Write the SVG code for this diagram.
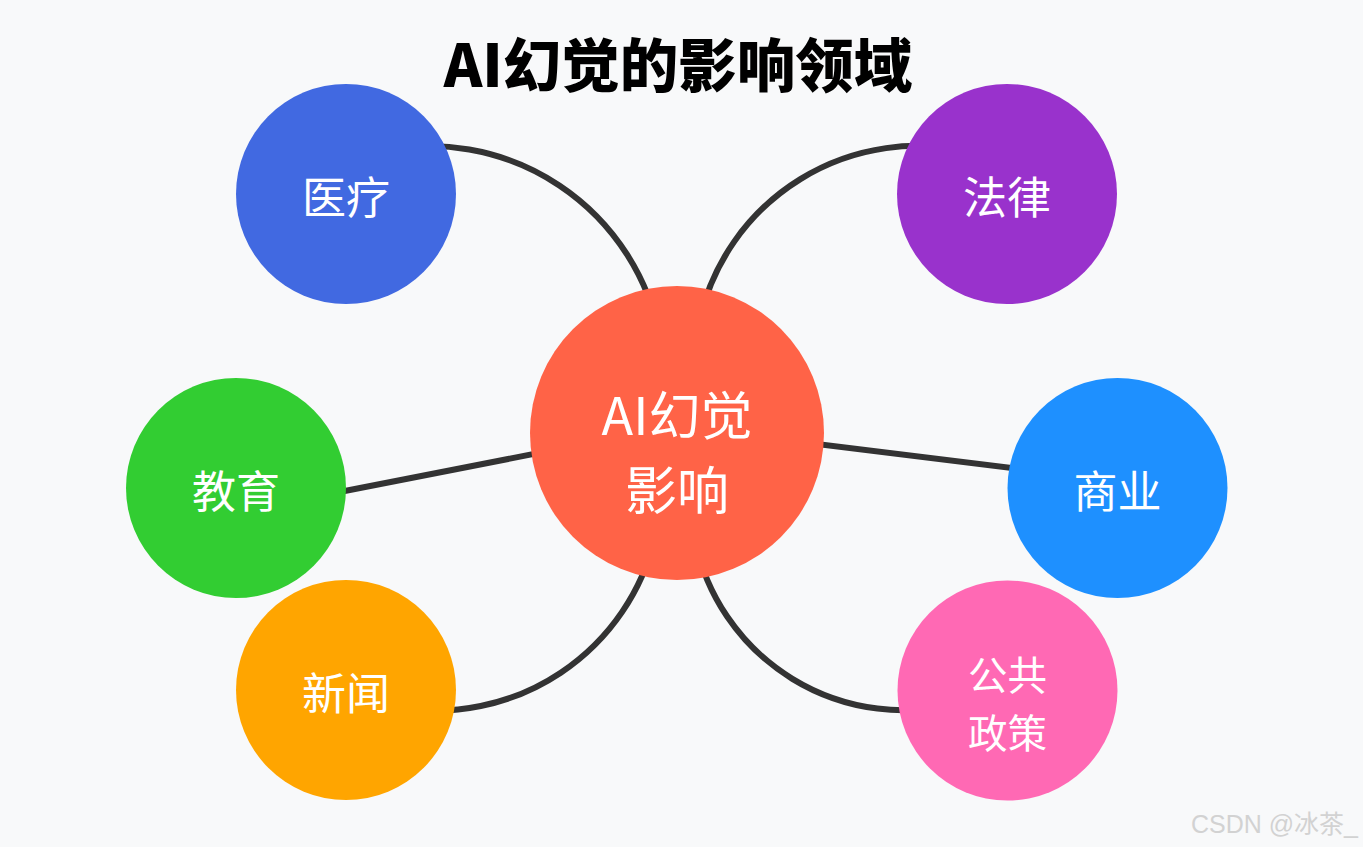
<svg xmlns="http://www.w3.org/2000/svg" width="1363" height="847" viewBox="0 0 1363 847">
<style>
.lbl{font-family:"Noto Sans CJK SC","Noto Sans",sans-serif;fill:#fff;text-anchor:middle}
.con{fill:none;stroke:#333;stroke-width:6}
</style>
<rect width="1363" height="847" fill="#f8f9fa"/>
<text x="678" y="87" text-anchor="middle" font-family="'Noto Sans CJK SC',sans-serif" font-weight="900" font-size="58.5" fill="#000">AI幻觉的影响领域</text>
<g id="connectors">
<path class="con" d="M 380 151.2 A 235 235 0 0 1 660 337.8"/>
<path class="con" d="M 970 152.1 A 223.5 223.5 0 0 0 700 318.4"/>
<path class="con" d="M 400 707.9 A 226 226 0 0 0 655 537.7"/>
<path class="con" d="M 960 702.5 A 212.9 212.9 0 0 1 695 540.3"/>
<path class="con" d="M 300 499.8 L 600 440.9"/>
<path class="con" d="M 760 437 L 1060 473.8"/>
</g>
<g id="center"><circle cx="677" cy="433" r="147" fill="#FF6347"/>
<text class="lbl" font-size="52"><tspan x="677" y="435">AI幻觉</tspan><tspan x="677" y="510">影响</tspan></text></g>
<g id="yiliao"><circle cx="346" cy="194" r="110" fill="#4169E1"/><text class="lbl" x="346" y="214" font-size="44">医疗</text></g>
<g id="falv"><circle cx="1007" cy="194" r="110" fill="#9932CC"/><text class="lbl" x="1007" y="214" font-size="44">法律</text></g>
<g id="jiaoyu"><circle cx="236" cy="488" r="110" fill="#32CD32"/><text class="lbl" x="236" y="508" font-size="44">教育</text></g>
<g id="shangye"><circle cx="1117.5" cy="488" r="110" fill="#1E90FF"/><text class="lbl" x="1117.5" y="508" font-size="44">商业</text></g>
<g id="xinwen"><circle cx="346" cy="690" r="110" fill="#FFA500"/><text class="lbl" x="346" y="710" font-size="44">新闻</text></g>
<g id="gonggong"><circle cx="1007.5" cy="690.5" r="110" fill="#FF69B4"/>
<text class="lbl" font-size="39.5"><tspan x="1007.5" y="690">公共</tspan><tspan x="1007.5" y="747.5">政策</tspan></text></g>
<text x="1358" y="833" text-anchor="end" font-family="'Liberation Sans','Noto Sans CJK SC',sans-serif" font-size="25" fill="#d2d2d2">CSDN @冰茶_</text>
</svg>
